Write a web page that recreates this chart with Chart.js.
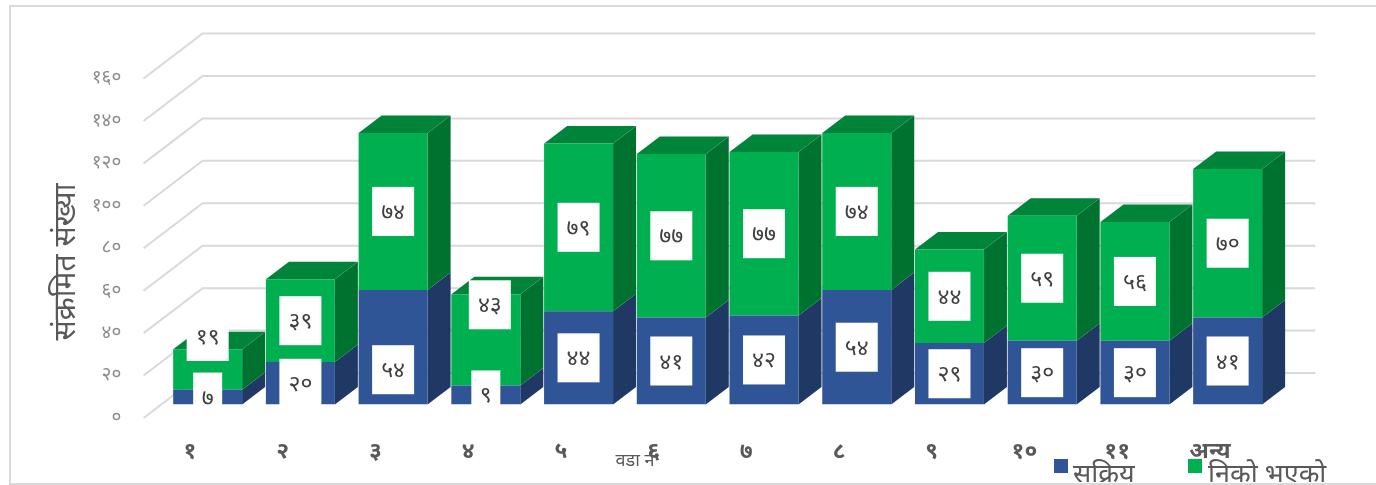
<!DOCTYPE html>
<html>
<head>
<meta charset="utf-8">
<style>
html,body{margin:0;padding:0;background:#fff;overflow:hidden;}
#wrap{position:relative;width:1376px;height:485px;}
</style>
<script src="https://cdn.jsdelivr.net/npm/chart.js@4"></script>
</head>
<body>
<div id="wrap"><canvas id="wardChart" width="1376" height="485"></canvas></div>
<script>
// data
var wards = ["१","२","३","४","५","६","७","८","९","१०","११","अन्य"];
var active = [7,20,54,9,44,41,42,54,29,30,30,41];
var recovered = [19,39,74,43,79,77,77,74,44,59,56,70];
var yTicks = ["०","२०","४०","६०","८०","१००","१२०","१४०","१६०"];
var seriesNames = ["सक्रिय","निको भएको"];

var FONT = '"Noto Sans", sans-serif';
var npDigits = "०१२३४५६७८९";
function toNp(n){
	return String(n).replace(/[0-9]/g,function(d){return npDigits[+d];});
}

// fake 3d depth, bar plane -> back of bar
var barDx = 23, barDy = -17.5;
// floor: bar plane -> front edge / back wall
var frontDx = -17.7, frontDy = 13.5, backDx = 41.3, backDy = -31.5;

// the few labels that were dragged away from the segment centre (dataset, index)
var labelMoved = {
	"0-2": [0,22.5],
	"1-0": [0,-33],
	"1-3": [4,-35]
};

var colors = {
	front: ["#2F5597","#00B050"],
	side: ["#1F3864","#00722F"],
	top: "#00843A"
};

function poly(ctx,pts,fill){
	ctx.beginPath();
	ctx.moveTo(pts[0][0],pts[0][1]);
	for(var i=1;i<pts.length;i++){ ctx.lineTo(pts[i][0],pts[i][1]); }
	ctx.closePath();
	ctx.fillStyle = fill;
	ctx.fill();
}

var threeD = {
	id: "threeD",
	beforeDatasetsDraw: function(chart){
		var ctx = chart.ctx, y = chart.scales.y, area = chart.chartArea;
		ctx.save();
		// frame
		ctx.strokeStyle = "#d9d9d9";
		ctx.lineWidth = 2;
		ctx.beginPath();
		ctx.moveTo(1376,6);ctx.lineTo(10,6);ctx.lineTo(10,484);ctx.lineTo(1376,484);
		ctx.stroke();
		// gridlines with the floor corner
		ctx.strokeStyle = "#d9d9d9";
		ctx.lineWidth = 2;
		y.ticks.forEach(function(t){
			var py = y.getPixelForValue(t.value);
			ctx.beginPath();
			ctx.moveTo(area.left+frontDx,py+frontDy);
			ctx.lineTo(area.left+backDx,py+backDy);
			ctx.lineTo(area.right+backDx,py+backDy);
			ctx.stroke();
		});
		// side and top faces
		chart.data.datasets.forEach(function(ds,d){
			chart.getDatasetMeta(d).data.forEach(function(bar){
				var r = bar.x+bar.width/2, l = bar.x-bar.width/2;
				poly(ctx,[[r,bar.y],[r+barDx,bar.y+barDy],[r+barDx,bar.base+barDy],[r,bar.base]],colors.side[d]);
				if(d==1){
					poly(ctx,[[l,bar.y],[l+barDx,bar.y+barDy],[r+barDx,bar.y+barDy],[r,bar.y]],colors.top);
				}
			});
		});
		ctx.restore();
	},
	afterDatasetsDraw: function(chart){
		var ctx = chart.ctx;
		ctx.save();
		// value boxes
		ctx.textAlign = "center";
		ctx.textBaseline = "middle";
		ctx.font = "23px "+FONT;
		chart.data.datasets.forEach(function(ds,d){
			chart.getDatasetMeta(d).data.forEach(function(bar,i){
				var moved = labelMoved[d+"-"+i] || [0,0];
				var cx = bar.x+moved[0], cy = (bar.y+bar.base)/2+moved[1];
				var w = ds.data[i]<10 ? 29 : 42;
				ctx.fillStyle = "#fff";
				ctx.fillRect(cx-w/2,cy-24.5,w,49);
				ctx.fillStyle = "#404040";
				ctx.fillText(toNp(ds.data[i]),cx,cy+1);
			});
		});
		// axis titles
		ctx.fillStyle = "#595959";
		ctx.font = "30px "+FONT;
		ctx.save();
		ctx.translate(66,262);
		ctx.rotate(-Math.PI/2);
		ctx.fillText("संक्रमित संख्या",0,0);
		ctx.restore();
		ctx.font = "18px "+FONT;
		ctx.fillText("वडा नं",635,461);
		// legend
		ctx.fillStyle = colors.front[0];
		ctx.fillRect(1054,459,14,14);
		ctx.fillStyle = colors.front[1];
		ctx.fillRect(1188,459,14,14);
		ctx.beginPath();
		ctx.rect(1060,440,316,42);
		ctx.clip();
		ctx.textAlign = "left";
		ctx.font = "27px "+FONT;
		ctx.fillStyle = "#595959";
		ctx.fillText(seriesNames[0],1073,475);
		ctx.fillText(seriesNames[1],1208,475);
		ctx.restore();
	}
};

var ctx = document.getElementById("wardChart").getContext("2d");
var myChart = new Chart(ctx,{
	type: "bar",
	data: {
		labels: wards,
		datasets: [
			{label: seriesNames[0], data: active, backgroundColor: colors.front[0]},
			{label: seriesNames[1], data: recovered, backgroundColor: colors.front[1]}
		]
	},
	plugins: [threeD],
	options: {
		responsive: false,
		animation: false,
		layout: {padding: {top: 65, right: 102, left: 0, bottom: 0}},
		plugins: {legend: {display: false}, tooltip: {enabled: false}},
		datasets: {bar: {barPercentage: 0.744, categoryPercentage: 1}},
		scales: {
			x: {
				stacked: true,
				grid: {display: false},
				border: {display: false},
				afterFit: function(s){ s.height = 80.5; },
				ticks: {
					autoRotate: false,
					maxRotation: 0,
					autoSkip: false,
					padding: 25,
					labelOffset: -17.7,
					color: "#595959",
					font: {family: FONT, size: 23, weight: "bold"}
				}
			},
			y: {
				stacked: true,
				min: 0,
				max: 160,
				grid: {display: false},
				border: {display: false},
				afterFit: function(s){ s.width = 161.3; },
				ticks: {
					stepSize: 20,
					padding: 32,
					labelOffset: 13,
					color: "#8c8c8c",
					font: {family: FONT, size: 19},
					callback: function(v,i){ return yTicks[i]; }
				}
			}
		}
	}
});
</script>
</body>
</html>
